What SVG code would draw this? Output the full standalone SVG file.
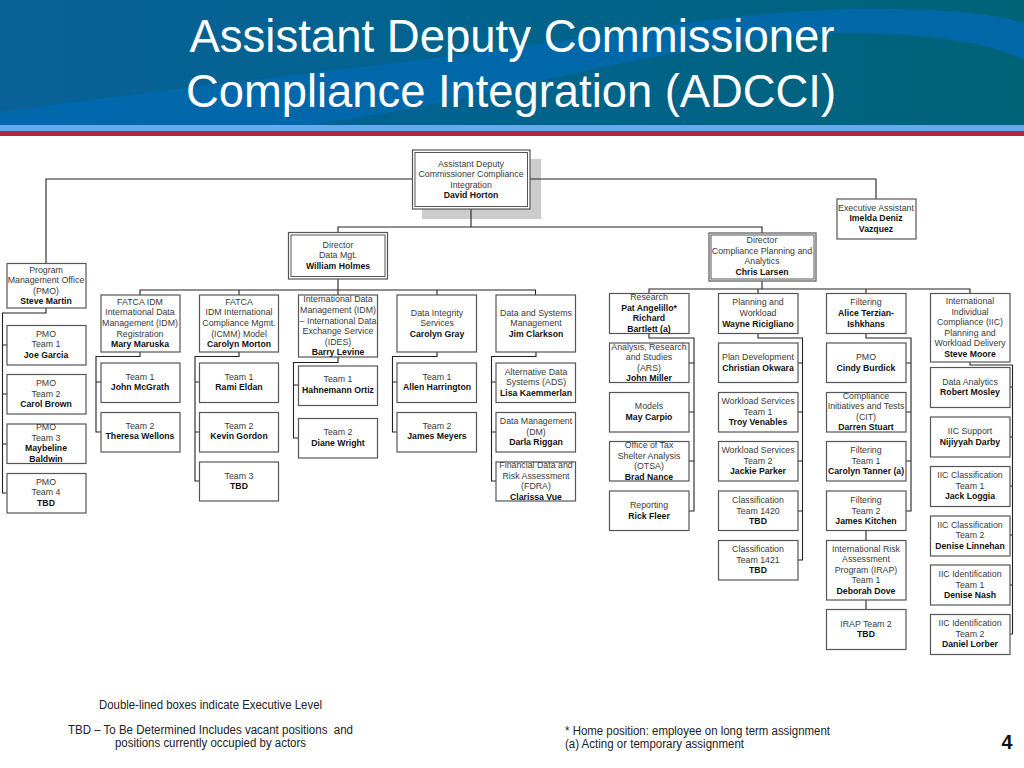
<svg xmlns="http://www.w3.org/2000/svg" width="1024" height="768" viewBox="0 0 1024 768">
<style>
text{font-family:"Liberation Sans",Arial,sans-serif;font-size:8.800px;fill:#3a3a3a;text-anchor:middle}
.n{font-weight:bold;fill:#111;font-size:8.700px}
.b{fill:#fff;stroke:#555;stroke-width:1.2}
.d{fill:none;stroke:#555;stroke-width:1}
#connectors path{fill:none;stroke:#222;stroke-width:1.1}
text.f{font-size:12px;fill:#222}
text.t{font-size:47px;fill:#fff}
</style>
<defs>
<linearGradient id="hdr" x1="0" y1="0" x2="1" y2="0"><stop offset="0" stop-color="#0a6198"/><stop offset=".45" stop-color="#00638e"/><stop offset="1" stop-color="#006378"/></linearGradient>
<linearGradient id="sw" x1="0" y1="0" x2="1" y2="0"><stop offset="0" stop-color="#0068ac"/><stop offset="1" stop-color="#0068a6"/></linearGradient>
</defs>
<g id="header">
<rect width="1024" height="126" fill="url(#hdr)"/>
<path d="M0,112C120,95 300,75 450,56C600,38 720,12 850,9C930,8 990,12 1024,23L1024,60C990,42 920,32 840,33C720,38 600,68 500,90C420,108 360,118 300,126L0,126Z" fill="url(#sw)"/>
<rect y="125" width="1024" height="6.500" fill="#66a9ec"/>
<rect y="131" width="1024" height="5" fill="#b0283f"/>
<text class="t" x="512" y="52" textLength="645" lengthAdjust="spacingAndGlyphs">Assistant Deputy Commissioner</text>
<text class="t" x="511" y="107" textLength="650" lengthAdjust="spacingAndGlyphs">Compliance Integration (ADCCI)</text>
</g>
<rect x="422" y="159" width="119" height="60" fill="#ccc"/>
<g id="connectors">
<path d="M46,263V179H876V199"/>
<path d="M471,209V227M338,232V227H762V233"/>
<path d="M140,295V290H535.500V295M239,295V290M338,279V295M437,295V290"/>
<path d="M649,293.500V289H970V293.500M758,293.500V289M866,293.500V289M762,281V289"/>
<path d="M46,308V313H2.500V493H7M2.500,345H7M2.500,394H7M2.500,444H7"/>
<path d="M140,352V356.500H96V432H101M96,382H101"/>
<path d="M239,352V356.500H195V481H199.500M195,382H199.500M195,432H199.500"/>
<path d="M338,357V362.500H293.500V438H298.500M293.500,385H298.500"/>
<path d="M437,352V356.500H392.500V432H397M392.500,382H397"/>
<path d="M536,352V356.500H491.500V481H496M491.500,382H496M491.500,432H496"/>
<path d="M649,333.500V338H694V511H689M694,363H689M694,412H689M694,461H689"/>
<path d="M758,333.500V338H802.500V560H798M802.500,363H798M802.500,412H798M802.500,461H798M802.500,511H798"/>
<path d="M866,333.500V338H911V511H906M911,363H906M911,412H906M911,461H906"/>
<path d="M866,530V540M866,600V609"/>
<path d="M970,362V365H1012.500V634H1010M1012.500,387H1010M1012.500,437H1010M1012.500,486H1010M1012.500,535H1010M1012.500,585H1010"/>
</g>
<g id="adc"><rect class="b" x="412.500" y="150" width="117.500" height="59"/><rect class="d" x="415" y="152.500" width="112.500" height="54"/><text x="471" y="167">Assistant Deputy</text><text x="471" y="177">Commissioner Compliance</text><text x="471" y="188">Integration</text><text class="n" x="471" y="198">David Horton</text></g>
<g id="exec"><rect class="b" x="837" y="199" width="79" height="40"/><text x="876" y="211">Executive Assistant</text><text class="n" x="876" y="221">Imelda Deniz</text><text class="n" x="876" y="232">Vazquez</text></g>
<g id="dir-data"><rect class="b" x="288.500" y="232.500" width="99" height="46.500"/><rect class="d" x="291" y="235" width="94" height="41.500"/><text x="338" y="248">Director</text><text x="338" y="258">Data Mgt.</text><text class="n" x="338" y="269">William Holmes</text></g>
<g id="dir-comp"><rect class="b" x="709" y="233" width="107" height="48"/><rect class="d" x="711" y="235" width="103" height="44"/><text x="762" y="243">Director</text><text x="762" y="254">Compliance Planning and</text><text x="762" y="264">Analytics</text><text class="n" x="762" y="275">Chris Larsen</text></g>
<g id="pmo"><rect class="b" x="7" y="263.500" width="79" height="44.500"/><text x="46" y="273">Program</text><text x="46" y="283">Management Office</text><text x="46" y="294">(PMO)</text><text class="n" x="46" y="304">Steve Martin</text></g>
<g id="pmo1"><rect class="b" x="7" y="325.500" width="79" height="39.500"/><text x="46" y="337">PMO</text><text x="46" y="347">Team 1</text><text class="n" x="46" y="358">Joe Garcia</text></g>
<g id="pmo2"><rect class="b" x="7" y="374.500" width="79" height="39.500"/><text x="46" y="386">PMO</text><text x="46" y="397">Team 2</text><text class="n" x="46" y="407">Carol Brown</text></g>
<g id="pmo3"><rect class="b" x="7" y="424" width="79" height="39.500"/><text x="46" y="430">PMO</text><text x="46" y="441">Team 3</text><text class="n" x="46" y="451">Maybeline</text><text class="n" x="46" y="462">Baldwin</text></g>
<g id="pmo4"><rect class="b" x="7" y="473.500" width="79" height="39.500"/><text x="46" y="485">PMO</text><text x="46" y="495">Team 4</text><text class="n" x="46" y="506">TBD</text></g>
<g id="fatca-idm"><rect class="b" x="101" y="295" width="79" height="57"/><text x="140" y="305">FATCA IDM</text><text x="140" y="315">International Data</text><text x="140" y="326">Management (IDM)</text><text x="140" y="337">Registration</text><text class="n" x="140" y="347">Mary Maruska</text></g>
<g id="fi1"><rect class="b" x="101" y="363" width="79" height="39.500"/><text x="140" y="380">Team 1</text><text class="n" x="140" y="390">John McGrath</text></g>
<g id="fi2"><rect class="b" x="101" y="412.500" width="79" height="39.500"/><text x="140" y="429">Team 2</text><text class="n" x="140" y="439">Theresa Wellons</text></g>
<g id="fatca"><rect class="b" x="199.500" y="295" width="79" height="57"/><text x="239" y="305">FATCA</text><text x="239" y="315">IDM International</text><text x="239" y="326">Compliance Mgmt.</text><text x="239" y="337">(ICMM) Model</text><text class="n" x="239" y="347">Carolyn Morton</text></g>
<g id="f1"><rect class="b" x="199.500" y="363" width="79" height="39.500"/><text x="239" y="380">Team 1</text><text class="n" x="239" y="390">Rami Eldan</text></g>
<g id="f2"><rect class="b" x="199.500" y="412.500" width="79" height="39.500"/><text x="239" y="429">Team 2</text><text class="n" x="239" y="439">Kevin Gordon</text></g>
<g id="f3"><rect class="b" x="199.500" y="462" width="79" height="39"/><text x="239" y="479">Team 3</text><text class="n" x="239" y="489">TBD</text></g>
<g id="ides"><rect class="b" x="298.500" y="295" width="79" height="62"/><text x="338" y="302">International Data</text><text x="338" y="313">Management (IDM)</text><text x="338" y="324">– International Data</text><text x="338" y="334">Exchange Service</text><text x="338" y="345">(IDES)</text><text class="n" x="338" y="355">Barry Levine</text></g>
<g id="ides1"><rect class="b" x="298.500" y="366" width="79" height="39.500"/><text x="338" y="382">Team 1</text><text class="n" x="338" y="393">Hahnemann Ortiz</text></g>
<g id="ides2"><rect class="b" x="298.500" y="418.500" width="79" height="39.500"/><text x="338" y="435">Team 2</text><text class="n" x="338" y="446">Diane Wright</text></g>
<g id="integrity"><rect class="b" x="397" y="295" width="79.500" height="57"/><text x="437" y="316">Data Integrity</text><text x="437" y="326">Services</text><text class="n" x="437" y="337">Carolyn Gray</text></g>
<g id="int1"><rect class="b" x="397" y="363" width="79.500" height="39.500"/><text x="437" y="380">Team 1</text><text class="n" x="437" y="390">Allen Harrington</text></g>
<g id="int2"><rect class="b" x="397" y="412.500" width="79.500" height="39.500"/><text x="437" y="429">Team 2</text><text class="n" x="437" y="439">James Meyers</text></g>
<g id="systems"><rect class="b" x="496" y="295" width="79.500" height="57"/><text x="536" y="316">Data and Systems</text><text x="536" y="326">Management</text><text class="n" x="536" y="337">Jim Clarkson</text></g>
<g id="ads"><rect class="b" x="496" y="363" width="79.500" height="39.500"/><text x="536" y="375">Alternative Data</text><text x="536" y="385">Systems (ADS)</text><text class="n" x="536" y="396">Lisa Kaemmerlan</text></g>
<g id="dm"><rect class="b" x="496" y="412.500" width="79.500" height="39.500"/><text x="536" y="424">Data Management</text><text x="536" y="435">(DM)</text><text class="n" x="536" y="445">Darla Riggan</text></g>
<g id="fdra"><rect class="b" x="496" y="462" width="79.500" height="39"/><text x="536" y="468">Financial Data and</text><text x="536" y="479">Risk Assessment</text><text x="536" y="489">(FDRA)</text><text class="n" x="536" y="500">Clarissa Vue</text></g>
<g id="research"><rect class="b" x="609.500" y="293.500" width="79.500" height="40"/><text x="649" y="300">Research</text><text class="n" x="649" y="311">Pat Angelillo*</text><text class="n" x="649" y="321">Richard</text><text class="n" x="649" y="332">Bartlett (a)</text></g>
<g id="ars"><rect class="b" x="609.500" y="343" width="79.500" height="39.500"/><text x="649" y="350">Analysis, Research</text><text x="649" y="360">and Studies</text><text x="649" y="371">(ARS)</text><text class="n" x="649" y="381">John Miller</text></g>
<g id="models"><rect class="b" x="609.500" y="392.500" width="79.500" height="39.500"/><text x="649" y="409">Models</text><text class="n" x="649" y="420">May Carpio</text></g>
<g id="otsa"><rect class="b" x="609.500" y="441.500" width="79.500" height="39.500"/><text x="649" y="448">Office of Tax</text><text x="649" y="459">Shelter Analysis</text><text x="649" y="469">(OTSA)</text><text class="n" x="649" y="480">Brad Nance</text></g>
<g id="reporting"><rect class="b" x="609.500" y="491" width="79.500" height="39.500"/><text x="649" y="508">Reporting</text><text class="n" x="649" y="519">Rick Fleer</text></g>
<g id="planning"><rect class="b" x="718.500" y="293.500" width="79.500" height="40"/><text x="758" y="305">Planning and</text><text x="758" y="316">Workload</text><text class="n" x="758" y="327">Wayne Ricigliano</text></g>
<g id="plan-dev"><rect class="b" x="718.500" y="343" width="79.500" height="39.500"/><text x="758" y="360">Plan Development</text><text class="n" x="758" y="371">Christian Okwara</text></g>
<g id="ws1"><rect class="b" x="718.500" y="392.500" width="79.500" height="39.500"/><text x="758" y="404">Workload Services</text><text x="758" y="415">Team 1</text><text class="n" x="758" y="425">Troy Venables</text></g>
<g id="ws2"><rect class="b" x="718.500" y="441.500" width="79.500" height="39.500"/><text x="758" y="453">Workload Services</text><text x="758" y="464">Team 2</text><text class="n" x="758" y="474">Jackie Parker</text></g>
<g id="c1420"><rect class="b" x="718.500" y="491" width="79.500" height="39.500"/><text x="758" y="503">Classification</text><text x="758" y="514">Team 1420</text><text class="n" x="758" y="524">TBD</text></g>
<g id="c1421"><rect class="b" x="718.500" y="540.500" width="79.500" height="39.500"/><text x="758" y="552">Classification</text><text x="758" y="563">Team 1421</text><text class="n" x="758" y="573">TBD</text></g>
<g id="filtering"><rect class="b" x="826.500" y="293.500" width="79.500" height="40"/><text x="866" y="305">Filtering</text><text class="n" x="866" y="316">Alice Terzian-</text><text class="n" x="866" y="327">Ishkhans</text></g>
<g id="fpmo"><rect class="b" x="826.500" y="343" width="79.500" height="39.500"/><text x="866" y="360">PMO</text><text class="n" x="866" y="371">Cindy Burdick</text></g>
<g id="cit"><rect class="b" x="826.500" y="392.500" width="79.500" height="39.500"/><text x="866" y="399">Compliance</text><text x="866" y="409">Initiatives and Tests</text><text x="866" y="420">(CIT)</text><text class="n" x="866" y="430">Darren Stuart</text></g>
<g id="ft1"><rect class="b" x="826.500" y="441.500" width="79.500" height="39.500"/><text x="866" y="453">Filtering</text><text x="866" y="464">Team 1</text><text class="n" x="866" y="474">Carolyn Tanner (a)</text></g>
<g id="ft2"><rect class="b" x="826.500" y="491" width="79.500" height="39.500"/><text x="866" y="503">Filtering</text><text x="866" y="514">Team 2</text><text class="n" x="866" y="524">James Kitchen</text></g>
<g id="irap1"><rect class="b" x="826.500" y="540.500" width="79.500" height="59.500"/><text x="866" y="552">International Risk</text><text x="866" y="562">Assessment</text><text x="866" y="573">Program (IRAP)</text><text x="866" y="583">Team 1</text><text class="n" x="866" y="594">Deborah Dove</text></g>
<g id="irap2"><rect class="b" x="826.500" y="609.500" width="79.500" height="40"/><text x="866" y="627">IRAP Team 2</text><text class="n" x="866" y="637">TBD</text></g>
<g id="iic"><rect class="b" x="930.500" y="293.500" width="79.500" height="68.500"/><text x="970" y="304">International</text><text x="970" y="315">Individual</text><text x="970" y="325">Compliance (IIC)</text><text x="970" y="336">Planning and</text><text x="970" y="346">Workload Delivery</text><text class="n" x="970" y="357">Steve Moore</text></g>
<g id="analytics"><rect class="b" x="930.500" y="367.500" width="79.500" height="40"/><text x="970" y="385">Data Analytics</text><text class="n" x="970" y="395">Robert Mosley</text></g>
<g id="support"><rect class="b" x="930.500" y="417" width="79.500" height="40"/><text x="970" y="434">IIC Support</text><text class="n" x="970" y="445">Nijiyyah Darby</text></g>
<g id="ic1"><rect class="b" x="930.500" y="466.500" width="79.500" height="40"/><text x="970" y="478">IIC Classification</text><text x="970" y="489">Team 1</text><text class="n" x="970" y="499">Jack Loggia</text></g>
<g id="ic2"><rect class="b" x="930.500" y="516" width="79.500" height="40"/><text x="970" y="528">IIC Classification</text><text x="970" y="538">Team 2</text><text class="n" x="970" y="549">Denise Linnehan</text></g>
<g id="id1"><rect class="b" x="930.500" y="565" width="79.500" height="40"/><text x="970" y="577">IIC Identification</text><text x="970" y="588">Team 1</text><text class="n" x="970" y="598">Denise Nash</text></g>
<g id="id2"><rect class="b" x="930.500" y="614.500" width="79.500" height="40"/><text x="970" y="626">IIC Identification</text><text x="970" y="637">Team 2</text><text class="n" x="970" y="647">Daniel Lorber</text></g>
<g id="footer">
<text class="f" x="210.500" y="709" textLength="223" lengthAdjust="spacingAndGlyphs">Double-lined boxes indicate Executive Level</text>
<text class="f" x="210.500" y="734" textLength="285" lengthAdjust="spacingAndGlyphs" style="white-space:pre">TBD – To Be Determined Includes vacant positions  and</text>
<text class="f" x="210.500" y="747" textLength="191" lengthAdjust="spacingAndGlyphs">positions currently occupied by actors</text>
<text class="f" x="565" y="735" textLength="265" lengthAdjust="spacingAndGlyphs" style="text-anchor:start">* Home position: employee on long term assignment</text>
<text class="f" x="565" y="748" textLength="179" lengthAdjust="spacingAndGlyphs" style="text-anchor:start">(a) Acting or temporary assignment</text>
<text x="1007" y="749" style="font-size:21px;font-weight:bold;fill:#111" textLength="11" lengthAdjust="spacingAndGlyphs">4</text>
</g>
</svg>
